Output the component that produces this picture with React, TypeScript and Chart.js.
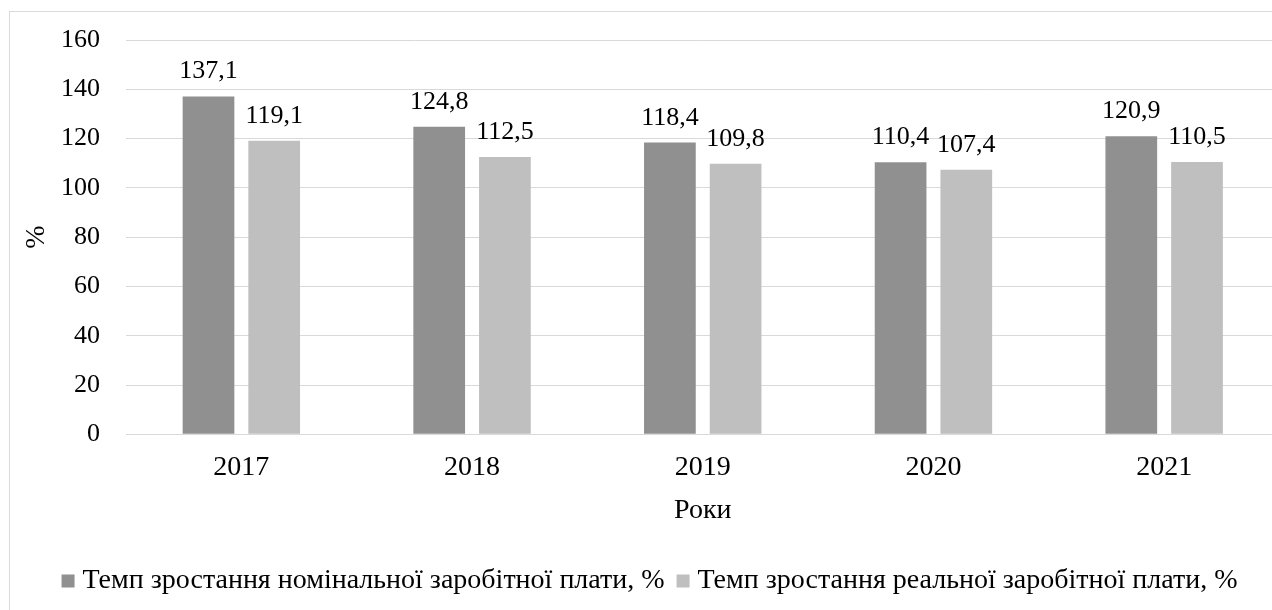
import React, { useEffect, useRef } from "react";
import { Chart, registerables } from "chart.js";

Chart.register(...registerables);

const years = ["2017", "2018", "2019", "2020", "2021"];
const nominalGrowth = [137.1, 124.8, 118.4, 110.4, 120.9];
const realGrowth = [119.1, 112.5, 109.8, 107.4, 110.5];
const seriesNames = [
  "Темп зростання номінальної заробітної плати, %",
  "Темп зростання реальної заробітної плати, %",
];
const yTicks = { min: 0, max: 160, step: 20 };
const axisTitles = { x: "Роки", y: "%" };

const FONT = "'Liberation Serif', 'Times New Roman', serif";
const FS_SMALL = 26;
const FS_LARGE = 28;

const valueLabels = {
  id: "valueLabels",
  afterDatasetsDraw(chart: any) {
    const ctx = chart.ctx;
    ctx.save();
    ctx.font = `${FS_SMALL}px ${FONT}`;
    ctx.fillStyle = "#000";
    ctx.textAlign = "center";
    ctx.textBaseline = "alphabetic";
    chart.data.datasets.forEach((ds: any, di: number) => {
      const meta = chart.getDatasetMeta(di);
      meta.data.forEach((el: any, i: number) => {
        const v = ds.data[i] as number;
        ctx.fillText(v.toFixed(1).replace(".", ","), el.x, el.y - 18);
      });
    });
    ctx.restore();
  },
};

export default function App() {
  const ref = useRef<HTMLCanvasElement | null>(null);
  useEffect(() => {
    if (!ref.current) return;
    const chart = new Chart(ref.current, {
      type: "bar",
      data: {
        labels: years,
        datasets: [
          {
            label: seriesNames[0],
            data: nominalGrowth,
            backgroundColor: "#909090",
            borderWidth: 0,
            categoryPercentage: 0.5696,
            barPercentage: 0.787,
          },
          {
            label: seriesNames[1],
            data: realGrowth,
            backgroundColor: "#bfbfbf",
            borderWidth: 0,
            categoryPercentage: 0.5696,
            barPercentage: 0.787,
          },
        ],
      },
      options: {
        responsive: false,
        animation: false,
        layout: { padding: { left: 15.5, right: 30.5, top: 28, bottom: 25 } },
        plugins: {
          tooltip: { enabled: false },
          legend: {
            position: "bottom",
            labels: {
              usePointStyle: true,
              pointStyle: "rect",
              boxWidth: 1,
              boxHeight: 13,
              padding: 18,
              color: "#000",
              font: { family: FONT, size: FS_LARGE },
            },
          },
        },
        scales: {
          x: {
            grid: { display: false, drawTicks: false },
            border: { display: true, color: "#d9d9d9", width: 1 },
            ticks: { color: "#000", font: { family: FONT, size: FS_LARGE }, padding: 17 },
            title: {
              display: true,
              text: axisTitles.x,
              color: "#000",
              font: { family: FONT, size: FS_LARGE },
              padding: { top: 0, bottom: 22 },
            },
            afterFit(scale: any) {
              scale.height = 114.7;
              scale.paddingLeft = 0;
              scale.paddingRight = 0;
            },
          },
          y: {
            min: yTicks.min,
            max: yTicks.max,
            grid: { color: "#d9d9d9", lineWidth: 1, drawTicks: false },
            border: { display: false },
            ticks: {
              stepSize: yTicks.step,
              color: "#000",
              font: { family: FONT, size: FS_SMALL },
              padding: 26,
            },
            title: {
              display: true,
              text: axisTitles.y,
              color: "#000",
              font: { family: FONT, size: FS_LARGE, lineHeight: 0.8 },
              padding: { top: 0.3, bottom: 0 },
            },
            afterFit(scale: any) {
              scale.width = 100.5;
              scale.paddingTop = 0;
              scale.paddingBottom = 0;
            },
          },
        },
      },
      plugins: [valueLabels],
    });
    return () => chart.destroy();
  }, []);

  return (
    <div
      style={{
        position: "fixed",
        left: 0,
        top: 0,
        width: 1272,
        height: 610,
        overflow: "hidden",
        background: "#fff",
      }}
    >
      <div
        style={{
          position: "absolute",
          left: 9,
          top: 11,
          width: 1400,
          height: 700,
          border: "1px solid #d9d9d9",
        }}
      />
      <canvas
        ref={ref}
        width={1300}
        height={618}
        style={{ position: "absolute", left: 10, top: 12 }}
      />
    </div>
  );
}
